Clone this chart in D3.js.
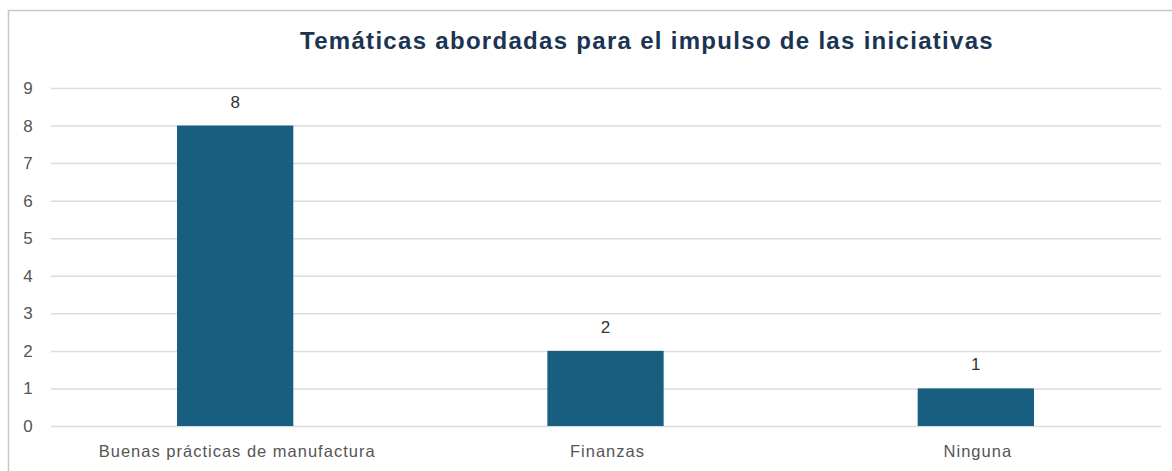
<!DOCTYPE html>
<html>
<head>
<meta charset="utf-8">
<script src="https://cdn.jsdelivr.net/npm/d3@7"></script>
<style>
  body { margin: 0; background: #fff; }
  svg { display: block; font-family: "Liberation Sans", Arial, sans-serif; }
</style>
</head>
<body>
<svg id="chart" width="1172" height="471"></svg>
<script>
// chart data
const categories = ["Buenas prácticas de manufactura", "Finanzas", "Ninguna"];
const values = [8, 2, 1];
const yTicks = [0, 1, 2, 3, 4, 5, 6, 7, 8, 9];
const title = "Temáticas abordadas para el impulso de las iniciativas";

const W = 1172, H = 471;
const margin = { top: 88, right: 11, bottom: 45, left: 50 };

const svg = d3.select("#chart");

// outer frame
svg.append("rect")
  .attr("x", 8.5).attr("y", 10.5)
  .attr("width", W).attr("height", H)
  .attr("fill", "none")
  .attr("stroke", "#c8c8c8")
  .attr("stroke-width", 1.5);

const x = d3.scaleBand()
  .domain(categories)
  .range([margin.left, W - margin.right])
  .paddingInner(0.686)
  .paddingOuter(0.343);

const y = d3.scaleLinear()
  .domain([0, 9])
  .range([H - margin.bottom, margin.top]);

// gridlines
svg.append("g")
  .selectAll("line")
  .data(yTicks)
  .join("line")
  .attr("x1", margin.left + 1).attr("x2", W - margin.right)
  .attr("y1", d => y(d) + 0.5).attr("y2", d => y(d) + 0.5)
  .attr("stroke", "#dcdcdc")
  .attr("stroke-width", 1.5);

// y tick labels
svg.append("g")
  .selectAll("text")
  .data(yTicks)
  .join("text")
  .attr("x", 28)
  .attr("y", d => y(d))
  .attr("dy", "0.35em")
  .attr("text-anchor", "middle")
  .attr("font-size", 17)
  .attr("fill", "#555")
  .text(d => d);

// bars
svg.append("g")
  .selectAll("rect")
  .data(values)
  .join("rect")
  .attr("x", (d, i) => x(categories[i]))
  .attr("y", d => y(d))
  .attr("width", x.bandwidth())
  .attr("height", d => y(0) - y(d))
  .attr("fill", "#175e80");

// value labels
svg.append("g")
  .selectAll("text")
  .data(values)
  .join("text")
  .attr("x", (d, i) => x(categories[i]) + x.bandwidth() / 2)
  .attr("y", d => y(d) - 18)
  .attr("text-anchor", "middle")
  .attr("font-size", 17)
  .attr("fill", "#333")
  .text(d => d);

// category labels
svg.append("g")
  .selectAll("text")
  .data(categories)
  .join("text")
  .attr("x", d => x(d) + x.bandwidth() / 2 + 2)
  .attr("y", H - margin.bottom + 31)
  .attr("text-anchor", "middle")
  .attr("font-size", 16.5)
  .attr("letter-spacing", 1)
  .attr("fill", "#555")
  .text(d => d);

// title
svg.append("text")
  .attr("x", 647)
  .attr("y", 49)
  .attr("text-anchor", "middle")
  .attr("font-size", 24)
  .attr("font-weight", "bold")
  .attr("letter-spacing", 1.3)
  .attr("fill", "#1a3452")
  .text(title);
</script>
</body>
</html>
